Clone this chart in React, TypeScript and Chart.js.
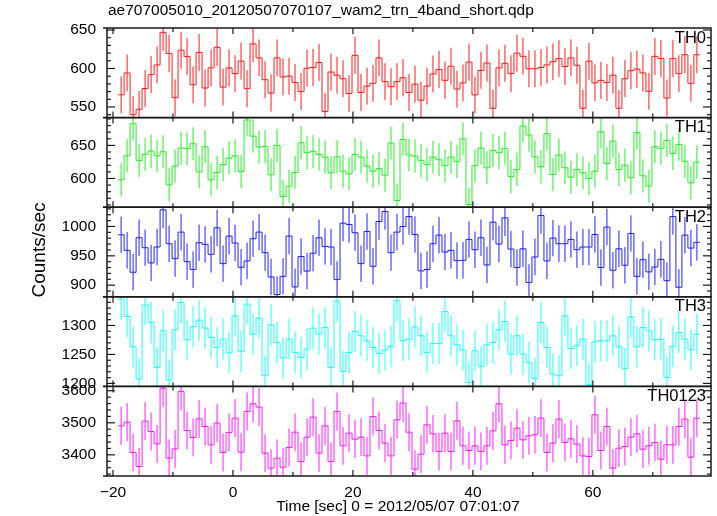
import React, { useEffect, useRef } from "react";
import { Chart, registerables } from "chart.js";

Chart.register(...registerables);

const TITLE = "ae707005010_20120507070107_wam2_trn_4band_short.qdp";
const X_TITLE = "Time [sec] 0 = 2012/05/07 07:01:07";
const Y_TITLE = "Counts/sec";
const PANEL_NAMES = ["TH0", "TH1", "TH2", "TH3", "TH0123"];
const PANEL_COLORS = ["#ff1a1a", "#22f022", "#2020ff", "#1affff", "#ff1aff"];

const X_MIN = -21;
const X_MAX = 79.7;
const X_LABEL_STEP = 20;
const X_TICK_STEP = 10;

// light-curve bins: 1 s wide, first bin starts at BIN_START
const BIN_START = -19.15;
const BIN_WIDTH = 1;

const TH0 = [
  565.8, 594.2, 540, 547, 574, 592, 604.6, 647, 619.6, 562,
  623.8, 615.4, 578.8, 620.8, 574.6, 600.8, 627.5, 575.8, 600.8, 593.3,
  609.6, 573.8, 632, 613.8, 585.4, 568, 613.8, 589, 590, 581.7,
  570, 600.4, 601.3, 607.9, 544.2, 595.4, 591.3, 586.7, 567.5, 617.1,
  568.8, 577.1, 580.8, 613.8, 582.9, 576.3, 582.9, 587.9, 568.8, 579.6,
  558.8, 577.1, 592.9, 598.8, 584.6, 602.9, 573.3, 581.3, 608.3, 565.8,
  597.5, 607.1, 548.3, 600.8, 606.7, 593.3, 620, 615.8, 599.6, 599.6,
  601.3, 604.6, 608.8, 612.9, 602.5, 613.8, 604.2, 548.3, 609.6, 581.3,
  584.6, 581.7, 591.3, 548.3, 586.7, 597.1, 599.2, 594.2, 570.4, 615.8,
  612.9, 561.7, 612.9, 593.3, 617.9, 580.8, 617.9,
];
const TH1 = [
  598, 634.3, 682.8, 627.3, 636.4, 641.4, 634.3, 640.4, 590.4, 618.7,
  646, 645, 652.5, 610, 648, 598, 609, 621, 630.8, 634.3,
  610.6, 688.4, 664, 647.5, 648.5, 605.6, 650, 572.7, 588.4, 609,
  654, 639, 641, 636.4, 632.3, 608.6, 632.8, 611, 607, 636.4,
  632.3, 618.7, 611, 615, 605, 653.5, 566.7, 659, 635.4, 633.8,
  627.3, 621, 632.3, 628.3, 619.2, 632.3, 625.3, 660, 560.6, 619.2,
  646, 616.2, 642.4, 639, 645.5, 603, 613.6, 679.3, 665.7, 632.8,
  617.7, 667.7, 606, 635.4, 616.2, 602, 613.6, 608.6, 600, 611,
  670.7, 622.7, 656.6, 613.6, 620.2, 601, 669.2, 604, 588.4, 648,
  645.5, 657.6, 637.9, 651.5, 626, 593.4, 624.8,
];
const TH2 = [
  985.9, 959.3, 922, 980.8, 963.8, 937.9, 965, 1028.3, 970.6, 945.2,
  990.4, 940.1, 926.6, 972.3, 969.5, 952.5, 997.7, 936.7, 983.6, 971.8,
  930.5, 941.2, 979.1, 990.4, 955.4, 914, 884, 915, 983.6, 897,
  948.8, 924, 954.4, 980.8, 966, 965, 909.5, 1005.6, 1003.4, 989.3,
  936.7, 991.5, 932.2, 1008.5, 1025.4, 955.4, 990.4, 1000, 1016.9, 986.4,
  924.3, 926.6, 970.6, 985.3, 956.5, 959.3, 941.8, 942.3, 977.9, 960.4,
  980.8, 934.4, 1007.3, 970, 1014.7, 961.5, 930, 962, 904.5, 948,
  1018.6, 941.2, 980.2, 970.6, 970.6, 977.9, 960.4, 965, 965, 986.4,
  930, 998.9, 925.4, 962, 933.9, 988.1, 915, 943.5, 922.6, 931,
  944, 907.6, 1016.9, 896.4, 985.3, 963.2, 972.9,
];
const TH3 = [
  1345.4, 1315.5, 1263.2, 1207.4, 1335.7, 1305.2, 1227.6, 1290.8, 1205.7, 1292.5,
  1339.7, 1275.3, 1297.7, 1309.2, 1295.4, 1279.3, 1262, 1276.4, 1252.9, 1316.7,
  1255.2, 1336.8, 1285, 1312.7, 1213.2, 1301.2, 1270.7, 1243.7, 1276.4, 1253.4,
  1244.8, 1259.2, 1295.4, 1285, 1296.6, 1227.6, 1342.6, 1220.6, 1253.4, 1289.7,
  1282.2, 1273.6, 1262, 1251.7, 1257.5, 1263.8, 1342.6, 1273.6, 1276.4, 1297.7,
  1282.2, 1253.4, 1269, 1269, 1324.2, 1282.2, 1266.7, 1257.5, 1201.7, 1256.3,
  1229.3, 1266.7, 1270.7, 1292.5, 1306.9, 1250.6, 1282.2, 1250.6, 1236.2, 1208.6,
  1305.2, 1262, 1216, 1213.2, 1316.7, 1260.3, 1264.9, 1276.4, 1197.7, 1271.8,
  1273.6, 1273.6, 1282.2, 1263.2, 1225.8, 1315, 1263.2, 1296.6, 1290.8, 1275.3,
  1276.4, 1210.3, 1263.8, 1287.9, 1276.4, 1258, 1285,
];
const TH0123 = [
  3490.6, 3502.1, 3407.3, 3363.5, 3505.2, 3472.9, 3434.4, 3608.4, 3389.5, 3418.7,
  3597.9, 3476, 3454.2, 3512.5, 3488.5, 3431.2, 3499, 3407.3, 3469.8, 3514.6,
  3408.3, 3535.4, 3559.4, 3549, 3405.2, 3358.3, 3389.5, 3361.4, 3422.9, 3470.8,
  3379.1, 3455.2, 3517.7, 3405.2, 3490.6, 3379.1, 3535.4, 3428.1, 3467.7, 3448.9,
  3455.2, 3396.8, 3519.8, 3476, 3436.4, 3396.8, 3509.4, 3561.5, 3470.8, 3355.2,
  3402.1, 3493.7, 3465.6, 3410.4, 3467.7, 3410.4, 3506.3, 3428.1, 3413.5, 3428.1,
  3410.4, 3428.1, 3475, 3559.4, 3431.2, 3444.8, 3483.3, 3446.9, 3459.4, 3462.5,
  3514.6, 3407.3, 3436.4, 3511.5, 3438.5, 3450, 3433.3, 3396.8, 3394.8, 3525,
  3413.5, 3488.5, 3358.3, 3420.8, 3426, 3455.2, 3465.6, 3417.7, 3428.1, 3438.5,
  3386.4, 3431.2, 3431.2, 3488.5, 3511.5, 3392.7, 3514.6,
];
const SERIES = [TH0, TH1, TH2, TH3, TH0123];

// typical 1-sigma error bar half-length per panel
const ERR = [24, 25, 31, 35.5, 59];

const Y_MIN = [536.2, 556.6, 880.2, 1194.8, 3334];
const Y_MAX = [652.6, 692, 1032.8, 1349.5, 3613.6];
const Y_STEP = [50, 50, 50, 50, 100];
const Y_MINOR = [10, 10, 10, 10, 20];

const FONT = "'Liberation Sans', Arial, Helvetica, sans-serif";
const FONT_SIZE = 15.5;
const PANEL_FONT_SIZE = 16.5;
const Y_TITLE_FONT_SIZE = 19;

function stepData(vals: number[]) {
  const pts: { x: number; y: number }[] = [];
  pts.push({ x: BIN_START, y: vals[0] });
  vals.forEach((v, i) => pts.push({ x: BIN_START + (i + 0.5) * BIN_WIDTH, y: v }));
  pts.push({ x: BIN_START + vals.length * BIN_WIDTH, y: vals[vals.length - 1] });
  return pts;
}

function errData(vals: number[], e: number) {
  const pts: { x: number; y: number | null }[] = [];
  vals.forEach((v, i) => {
    const t = BIN_START + (i + 0.5) * BIN_WIDTH;
    pts.push({ x: t, y: v - e });
    pts.push({ x: t, y: v + e });
    pts.push({ x: t, y: null });
  });
  return pts;
}

const framePlugin = {
  id: "qdpFrame",
  afterDraw(chart: any) {
    const ctx = chart.ctx as CanvasRenderingContext2D;
    const area = chart.chartArea;
    const xs = chart.scales.x;
    ctx.save();
    const seg = (x1: number, y1: number, x2: number, y2: number) => {
      ctx.beginPath();
      ctx.moveTo(x1, y1);
      ctx.lineTo(x2, y2);
      ctx.stroke();
    };
    ctx.strokeStyle = "#1a1a1a";
    PANEL_NAMES.forEach((name, p) => {
      const ys = chart.scales["y" + p];
      const top = ys.top;
      const bottom = ys.bottom;
      ctx.lineWidth = 1.5;
      ctx.strokeRect(area.left, top, area.right - area.left, bottom - top);
      seg(area.left - 4, top, area.left, top);
      seg(area.left - 4, bottom, area.left, bottom);
      ctx.lineWidth = 1.2;
      const step = Y_MINOR[p];
      for (let v = Math.ceil(Y_MIN[p] / step) * step; v <= Y_MAX[p]; v += step) {
        const y = ys.getPixelForValue(v);
        const r = v / Y_STEP[p];
        const major = Math.abs(r - Math.round(r)) < 1e-6;
        const len = major ? 8 : 4;
        seg(area.left, y, area.left + len, y);
        seg(area.right, y, area.right - len, y);
      }
      for (let t = Math.ceil(X_MIN / X_TICK_STEP) * X_TICK_STEP; t <= X_MAX; t += X_TICK_STEP) {
        const x = xs.getPixelForValue(t);
        const r = t / X_LABEL_STEP;
        const len = Math.abs(r - Math.round(r)) < 1e-6 ? 6 : 4;
        seg(x, top, x, top + len);
        seg(x, bottom, x, bottom - len);
      }
      ctx.fillStyle = "#000";
      ctx.font = `${PANEL_FONT_SIZE}px ${FONT}`;
      ctx.textAlign = "right";
      ctx.textBaseline = "middle";
      ctx.fillText(name, area.right - 5, top + 10);
    });
    ctx.fillStyle = "#000";
    ctx.font = `${FONT_SIZE}px ${FONT}`;
    ctx.textAlign = "left";
    ctx.textBaseline = "middle";
    ctx.fillText(TITLE, area.left + 1, 11);
    ctx.textAlign = "center";
    ctx.fillText(X_TITLE, 398, 507);
    ctx.font = `${Y_TITLE_FONT_SIZE}px ${FONT}`;
    ctx.translate(40, (area.top + area.bottom) / 2 - 2);
    ctx.rotate(-Math.PI / 2);
    ctx.fillText(Y_TITLE, 0, 0);
    ctx.restore();
  },
};

export default function App() {
  const ref = useRef<HTMLCanvasElement | null>(null);
  useEffect(() => {
    document.body.style.margin = "0";
    const canvas = ref.current;
    if (!canvas) return;
    const datasets: any[] = [];
    SERIES.forEach((vals, p) => {
      datasets.push({
        data: stepData(vals),
        yAxisID: "y" + p,
        xAxisID: "x",
        stepped: "middle",
        borderColor: PANEL_COLORS[p],
        borderWidth: 1,
        pointRadius: 0,
        fill: false,
      });
      datasets.push({
        data: errData(vals, ERR[p]),
        yAxisID: "y" + p,
        xAxisID: "x",
        spanGaps: false,
        borderColor: PANEL_COLORS[p],
        borderWidth: 1,
        pointRadius: 0,
        fill: false,
      });
    });
    const scales: any = {
      x: {
        type: "linear",
        position: "bottom",
        min: X_MIN,
        max: X_MAX,
        grid: { display: false, drawTicks: false },
        border: { display: false },
        ticks: {
          stepSize: X_LABEL_STEP,
          includeBounds: false,
          padding: 7,
          color: "#000",
          font: { family: FONT, size: FONT_SIZE },
          maxRotation: 0,
          callback: (v: any) => (Number(v) < 0 ? "\u2212" + Math.abs(Number(v)) : String(v)),
        },
        afterFit: (s: any) => {
          s.height = 40;
        },
      },
    };
    for (let p = PANEL_NAMES.length - 1; p >= 0; p--) {
      scales["y" + p] = {
        type: "linear",
        position: "left",
        stack: "panels",
        stackWeight: 1,
        min: Y_MIN[p],
        max: Y_MAX[p],
        grid: { display: false, drawTicks: false },
        border: { display: false },
        ticks: {
          stepSize: Y_STEP[p],
          includeBounds: false,
          padding: 11,
          color: "#000",
          font: { family: FONT, size: FONT_SIZE },
          callback: (v: any) => String(Math.round(Number(v))),
        },
        afterFit: (s: any) => {
          s.width = 107;
        },
      };
    }
    const chart = new Chart(canvas, {
      type: "line",
      data: { datasets },
      options: {
        responsive: false,
        animation: false,
        events: [],
        layout: { padding: { top: 28, right: 6, left: 0, bottom: 0 } },
        plugins: { legend: { display: false }, tooltip: { enabled: false }, title: { display: false } },
        scales,
      },
      plugins: [framePlugin],
    } as any);
    return () => chart.destroy();
  }, []);
  return (
    <div style={{ position: "fixed", left: 0, top: 0, width: 717, height: 516, background: "#fff" }}>
      <canvas ref={ref} width={717} height={516} style={{ display: "block" }} />
    </div>
  );
}
